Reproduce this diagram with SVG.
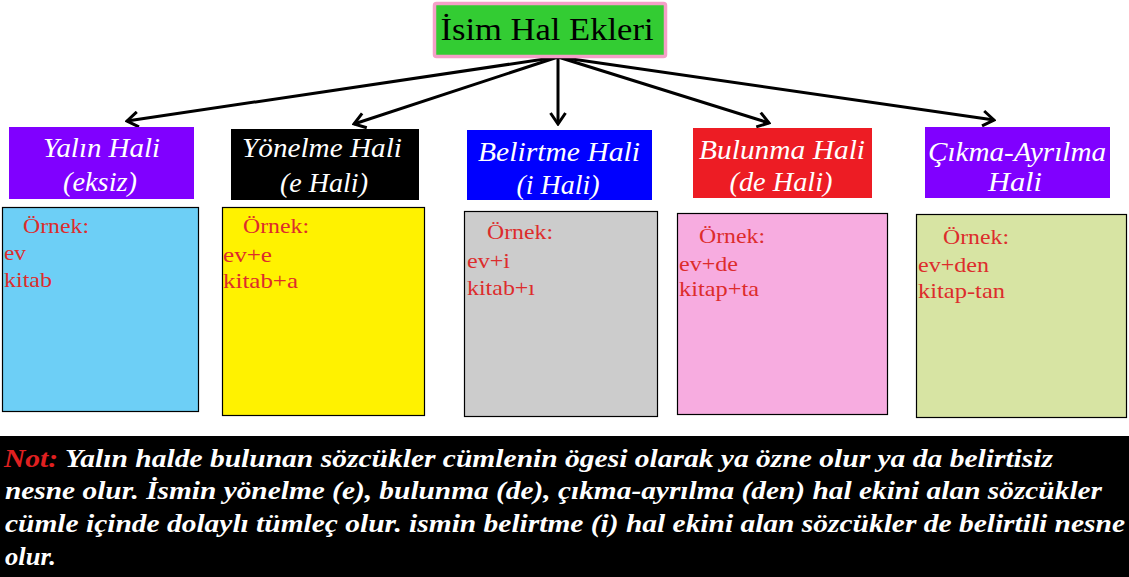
<svg xmlns="http://www.w3.org/2000/svg" width="1129" height="577" viewBox="0 0 1129 577">
<defs>
<style>
.f{font-family:'Liberation Serif',serif !important;}
.hd{fill:#ffffff;font-style:italic;font-size:27px;text-anchor:middle;}
.ex{fill:#dd2c2c;font-size:21px;}
.note{fill:#ffffff;font-style:italic;font-weight:bold;font-size:26px;}
.box{stroke:#000;stroke-width:1.2;}
.conn{stroke:#000;stroke-width:3;fill:none;}
</style>
<marker id="arr" markerUnits="userSpaceOnUse" viewBox="-14 -9 16 18" refX="0" refY="0" markerWidth="16" markerHeight="18" orient="auto">
<path d="M-11,-7.5 L0,0 L-11,7.5" fill="none" stroke="#000" stroke-width="3"/>
</marker>
</defs>
<rect width="1129" height="577" fill="#ffffff"/>

<g id="connectors">
<line class="conn" x1="558" y1="57" x2="127" y2="121" marker-end="url(#arr)"/>
<line class="conn" x1="558" y1="57" x2="354" y2="124" marker-end="url(#arr)"/>
<line class="conn" x1="558" y1="57" x2="558" y2="124" marker-end="url(#arr)"/>
<line class="conn" x1="558" y1="57" x2="769" y2="123" marker-end="url(#arr)"/>
<line class="conn" x1="558" y1="57" x2="994" y2="120" marker-end="url(#arr)"/>
</g>

<g id="title">
<rect x="434.5" y="3.5" width="231" height="53" rx="2" fill="#33cc33" stroke="#f5a0c8" stroke-width="3.5"/>
<text class="f" style="font-family:'Liberation Serif',serif" x="547" y="40" font-size="32" text-anchor="middle" textLength="213" lengthAdjust="spacingAndGlyphs" fill="#000">İsim Hal Ekleri</text>
</g>

<g id="yalin">
<rect x="9" y="127" width="185" height="72" fill="#8000ff"/>
<text class="f hd" style="font-family:'Liberation Serif',serif" x="101.5" y="157" textLength="117" lengthAdjust="spacingAndGlyphs">Yalın Hali</text>
<text class="f hd" style="font-family:'Liberation Serif',serif" x="100" y="191" textLength="74" lengthAdjust="spacingAndGlyphs">(eksiz)</text>
</g>
<g id="yalin-ornek">
<rect class="box" x="2.5" y="207.5" width="196" height="204" fill="#6dcff6"/>
<text class="f ex" style="font-family:'Liberation Serif',serif" x="23" y="233" textLength="66" lengthAdjust="spacingAndGlyphs">Örnek:</text>
<text class="f ex" style="font-family:'Liberation Serif',serif" x="4" y="260" textLength="22" lengthAdjust="spacingAndGlyphs">ev</text>
<text class="f ex" style="font-family:'Liberation Serif',serif" x="4" y="287" textLength="48" lengthAdjust="spacingAndGlyphs">kitab</text>
</g>

<g id="yonelme">
<rect x="231" y="129" width="188" height="71" fill="#000000"/>
<text class="f hd" style="font-family:'Liberation Serif',serif" x="322" y="157" textLength="160" lengthAdjust="spacingAndGlyphs">Yönelme Hali</text>
<text class="f hd" style="font-family:'Liberation Serif',serif" x="324" y="192" textLength="88" lengthAdjust="spacingAndGlyphs">(e Hali)</text>
</g>
<g id="yonelme-ornek">
<rect class="box" x="222.5" y="207.5" width="202" height="208" fill="#fff200"/>
<text class="f ex" style="font-family:'Liberation Serif',serif" x="243" y="233" textLength="66" lengthAdjust="spacingAndGlyphs">Örnek:</text>
<text class="f ex" style="font-family:'Liberation Serif',serif" x="223" y="262" textLength="49" lengthAdjust="spacingAndGlyphs">ev+e</text>
<text class="f ex" style="font-family:'Liberation Serif',serif" x="223" y="288" textLength="75" lengthAdjust="spacingAndGlyphs">kitab+a</text>
</g>

<g id="belirtme">
<rect x="467" y="130" width="185" height="70" fill="#0000ff"/>
<text class="f hd" style="font-family:'Liberation Serif',serif" x="559" y="161" textLength="162" lengthAdjust="spacingAndGlyphs">Belirtme Hali</text>
<text class="f hd" style="font-family:'Liberation Serif',serif" x="558" y="194" textLength="83" lengthAdjust="spacingAndGlyphs">(i Hali)</text>
</g>
<g id="belirtme-ornek">
<rect class="box" x="464.5" y="211.5" width="193" height="205" fill="#cccccc"/>
<text class="f ex" style="font-family:'Liberation Serif',serif" x="487" y="239" textLength="66" lengthAdjust="spacingAndGlyphs">Örnek:</text>
<text class="f ex" style="font-family:'Liberation Serif',serif" x="467" y="268" textLength="43" lengthAdjust="spacingAndGlyphs">ev+i</text>
<text class="f ex" style="font-family:'Liberation Serif',serif" x="467" y="295" textLength="68" lengthAdjust="spacingAndGlyphs">kitab+ı</text>
</g>

<g id="bulunma">
<rect x="693" y="128" width="179" height="70" fill="#ed1c24"/>
<text class="f hd" style="font-family:'Liberation Serif',serif" x="782" y="159" textLength="166" lengthAdjust="spacingAndGlyphs">Bulunma Hali</text>
<text class="f hd" style="font-family:'Liberation Serif',serif" x="781" y="191" textLength="103" lengthAdjust="spacingAndGlyphs">(de Hali)</text>
</g>
<g id="bulunma-ornek">
<rect class="box" x="677.5" y="213.5" width="210" height="201" fill="#f7ace0"/>
<text class="f ex" style="font-family:'Liberation Serif',serif" x="699" y="243" textLength="66" lengthAdjust="spacingAndGlyphs">Örnek:</text>
<text class="f ex" style="font-family:'Liberation Serif',serif" x="679" y="271" textLength="59" lengthAdjust="spacingAndGlyphs">ev+de</text>
<text class="f ex" style="font-family:'Liberation Serif',serif" x="679" y="296" textLength="80" lengthAdjust="spacingAndGlyphs">kitap+ta</text>
</g>

<g id="cikma">
<rect x="925" y="127" width="185" height="71" fill="#8000ff"/>
<text class="f hd" style="font-family:'Liberation Serif',serif" x="1017" y="161" textLength="178" lengthAdjust="spacingAndGlyphs">Çıkma-Ayrılma</text>
<text class="f hd" style="font-family:'Liberation Serif',serif" x="1015" y="191" textLength="54" lengthAdjust="spacingAndGlyphs">Hali</text>
</g>
<g id="cikma-ornek">
<rect class="box" x="916.5" y="214.5" width="210" height="203" fill="#d7e4a3"/>
<text class="f ex" style="font-family:'Liberation Serif',serif" x="943" y="244" textLength="66" lengthAdjust="spacingAndGlyphs">Örnek:</text>
<text class="f ex" style="font-family:'Liberation Serif',serif" x="918" y="272" textLength="71" lengthAdjust="spacingAndGlyphs">ev+den</text>
<text class="f ex" style="font-family:'Liberation Serif',serif" x="918" y="298" textLength="87" lengthAdjust="spacingAndGlyphs">kitap-tan</text>
</g>

<g id="note">
<rect x="0" y="436" width="1129" height="141" fill="#000000"/>
<text class="f note" style="font-family:'Liberation Serif',serif" x="4" y="467" textLength="1049" lengthAdjust="spacingAndGlyphs"><tspan fill="#e02020">Not:</tspan> Yalın halde bulunan sözcükler cümlenin ögesi olarak ya özne olur ya da belirtisiz</text>
<text class="f note" style="font-family:'Liberation Serif',serif" x="5" y="499" textLength="1097" lengthAdjust="spacingAndGlyphs">nesne olur. İsmin yönelme (e), bulunma (de), çıkma-ayrılma (den) hal ekini alan sözcükler</text>
<text class="f note" style="font-family:'Liberation Serif',serif" x="5" y="532" textLength="1120" lengthAdjust="spacingAndGlyphs">cümle içinde dolaylı tümleç olur. ismin belirtme (i) hal ekini alan sözcükler de belirtili nesne</text>
<text class="f note" style="font-family:'Liberation Serif',serif" x="5" y="565" textLength="51" lengthAdjust="spacingAndGlyphs">olur.</text>
</g>
</svg>
